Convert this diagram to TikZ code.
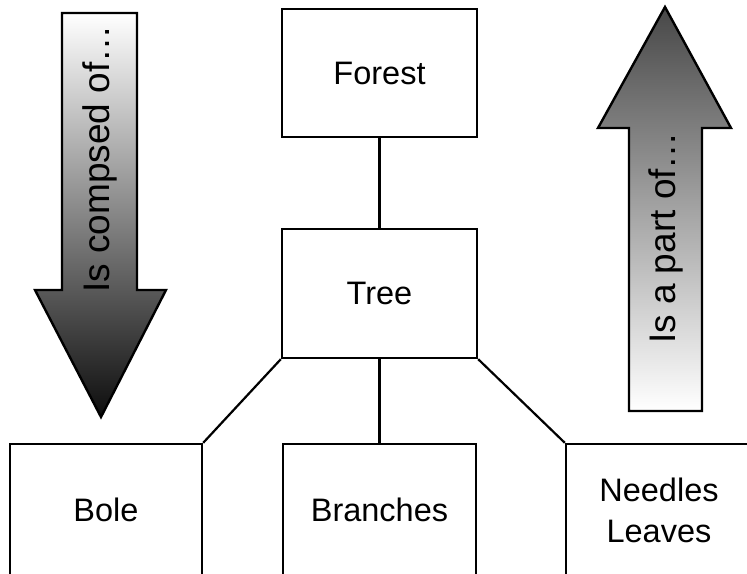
\documentclass[tikz,border=0pt]{standalone}
\usepackage{fontspec}
\setmainfont{Liberation Sans}
\begin{document}
\begin{tikzpicture}[x=1pt,y=-1pt,
  box/.style={draw, line width=2.4pt, inner sep=0pt, align=center,
    font=\fontsize{32.5}{41}\selectfont},
  link/.style={line width=2.2pt},
  bigarrow/.style={draw, line width=2.4pt, miter limit=10},
  arrowtext/.style={font=\fontsize{37}{44}\selectfont, rotate=90, inner sep=0pt}]
  \useasboundingbox (0,0) rectangle (747,573);

  % hierarchy boxes
  \node[box, minimum width=195pt, minimum height=128pt] (forest) at (379.5,73) {Forest};
  \node[box, minimum width=195pt, minimum height=129pt] (tree) at (379.5,293.5) {Tree};
  \node[box, minimum width=192pt, minimum height=132pt] (bole) at (106,510) {Bole};
  \node[box, minimum width=193pt, minimum height=132pt] (branches) at (379.5,510) {Branches};
  \node[box, minimum width=186pt, minimum height=132pt] (needles) at (659,510) {Needles\\Leaves};

  % links between levels
  \draw[link] (forest.south) -- (tree.north);
  \draw[link] (tree.south west) -- (bole.north east);
  \draw[link] (tree.south) -- (branches.north);
  \draw[link] (tree.south east) -- (needles.north west);

  % downward arrow: composition
  \path[bigarrow, top color=white, middle color=black!38, bottom color=black!95]
    (62,13) -- (137,13) -- (137,290) -- (166,290) -- (101,417)
    -- (35,290) -- (62,290) -- cycle;
  \node[arrowtext] (down) at (100,159) {Is compsed of\dots};

  % upward arrow: membership
  \path[bigarrow, bottom color=white, middle color=black!28, top color=black!72]
    (629,411) -- (702,411) -- (702,128) -- (731,128) -- (665,7)
    -- (598,128) -- (629,128) -- cycle;
  \node[arrowtext] (up) at (665.5,238) {Is a part of\dots};
\end{tikzpicture}
\end{document}
